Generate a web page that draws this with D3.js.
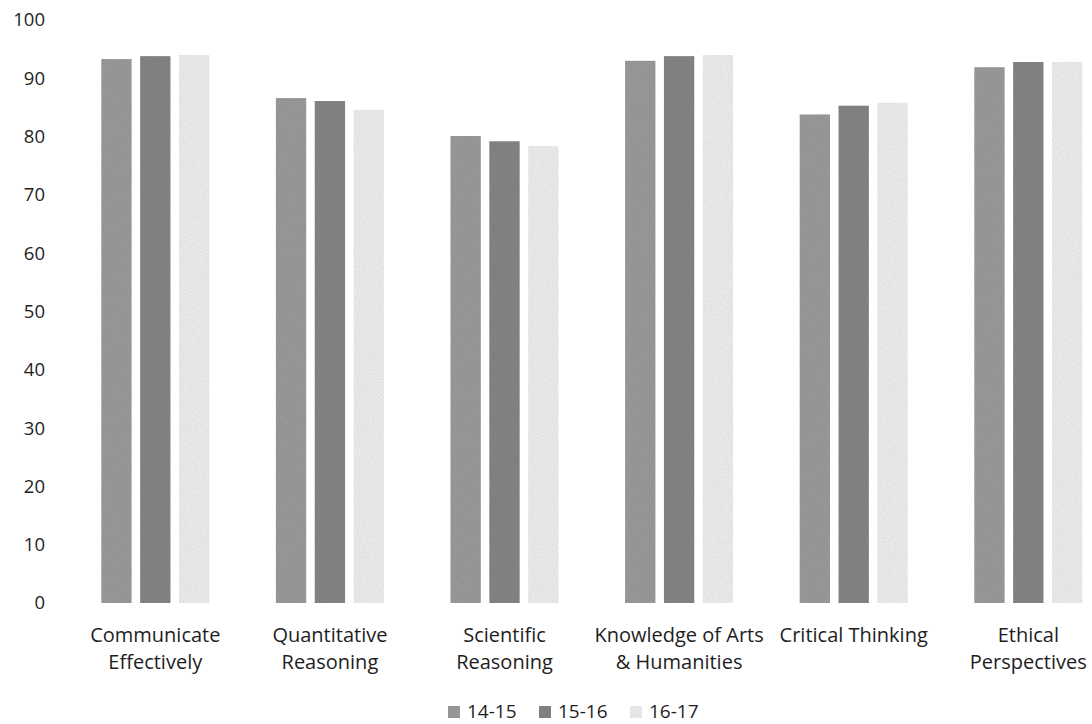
<!DOCTYPE html>
<html>
<head>
<meta charset="utf-8">
<script src="https://cdn.jsdelivr.net/npm/d3@7"></script>
<style>
  html, body { margin: 0; padding: 0; background: #ffffff; }
  svg { display: block; }
  text { font-family: "Open Sans", Lato, sans-serif; fill: #1e1e1e; }
</style>
</head>
<body>
<svg id="chart" width="1092" height="724"></svg>
<script>
// Survey results by learning outcome, three academic years
const categories = [
  "Communicate Effectively",
  "Quantitative Reasoning",
  "Scientific Reasoning",
  "Knowledge of Arts & Humanities",
  "Critical Thinking",
  "Ethical Perspectives"
];
const categoryLines = [
  ["Communicate", "Effectively"],
  ["Quantitative", "Reasoning"],
  ["Scientific", "Reasoning"],
  ["Knowledge of Arts", "& Humanities"],
  ["Critical Thinking"],
  ["Ethical", "Perspectives"]
];
const seriesNames = ["14-15", "15-16", "16-17"];
const values1415 = [93.3, 86.6, 80.1, 93.0, 83.8, 91.9];
const values1516 = [93.8, 86.1, 79.2, 93.8, 85.3, 92.8];
const values1617 = [94.0, 84.6, 78.4, 94.0, 85.8, 92.8];
const yTicks = [0, 10, 20, 30, 40, 50, 60, 70, 80, 90, 100];
const seriesColors = ["#9a9a9a", "#848484", "#ececec"];

const seriesValues = [values1415, values1516, values1617];

const svg = d3.select("#chart");

// grain used on the bars
const defs = svg.append("defs");
const grain = defs.append("filter").attr("id", "grain")
  .attr("x", 0).attr("y", 0).attr("width", 1).attr("height", 1);
grain.append("feTurbulence").attr("type", "fractalNoise")
  .attr("baseFrequency", 0.9).attr("numOctaves", 2).attr("seed", 3).attr("result", "noise");
grain.append("feColorMatrix").attr("in", "noise").attr("type", "matrix")
  .attr("values", "0 0 0 0 0  0 0 0 0 0  0 0 0 0 0  0 0 0 0.26 -0.07").attr("result", "dots");
grain.append("feComposite").attr("in", "dots").attr("in2", "SourceGraphic").attr("operator", "in").attr("result", "dotsIn");
grain.append("feMerge").selectAll("feMergeNode").data(["SourceGraphic", "dotsIn"]).join("feMergeNode").attr("in", d => d);

const y = d3.scaleLinear().domain([0, 100]).range([603, 20]);
const x0 = d3.scaleBand().domain(categories).range([68, 1115.6]).paddingInner(0).paddingOuter(0);
const groupWidth = 108;
const x1 = d3.scaleBand().domain(seriesNames).range([0, groupWidth]).paddingInner(0.22);

// y axis labels
const yAxis = d3.axisLeft(y).tickValues(yTicks).tickSize(0).tickPadding(0);
const yg = svg.append("g").attr("transform", "translate(45,0)").call(yAxis);
yg.select(".domain").remove();
yg.selectAll("text")
  .attr("font-family", "'Open Sans', Lato, sans-serif")
  .attr("font-size", 18.5)
  .attr("fill", "#1e1e1e");

// bars
const groups = svg.append("g").selectAll("g")
  .data(categories)
  .join("g")
  .attr("transform", d => `translate(${x0(d) + (x0.bandwidth() - groupWidth) / 2},0)`);

groups.selectAll("rect")
  .data((d, i) => seriesNames.map((s, j) => ({ series: s, value: seriesValues[j][i], j })))
  .join("rect")
  .attr("x", d => x1(d.series))
  .attr("y", d => y(d.value))
  .attr("width", x1.bandwidth())
  .attr("height", d => y(0) - y(d.value))
  .attr("fill", d => seriesColors[d.j])
  .attr("filter", "url(#grain)");

// category labels
const labels = svg.append("g").selectAll("text")
  .data(categories)
  .join("text")
  .attr("text-anchor", "middle")
  .attr("font-size", 20)
  .attr("x", d => x0(d) + x0.bandwidth() / 2)
  .attr("y", 642);
labels.selectAll("tspan")
  .data((d, i) => categoryLines[i])
  .join("tspan")
  .attr("x", function () { return d3.select(this.parentNode).attr("x"); })
  .attr("dy", (d, i) => i === 0 ? 0 : 27)
  .text(d => d);

// legend
const legendItems = [
  { name: seriesNames[0], x: 448 },
  { name: seriesNames[1], x: 539 },
  { name: seriesNames[2], x: 630 }
];
const legend = svg.append("g").selectAll("g")
  .data(legendItems)
  .join("g")
  .attr("transform", d => `translate(${d.x},711)`);
legend.append("rect")
  .attr("x", 0).attr("y", -5).attr("width", 12).attr("height", 12)
  .attr("fill", (d, i) => seriesColors[i])
  .attr("filter", "url(#grain)");
legend.append("text")
  .attr("x", 19).attr("y", 0)
  .attr("dominant-baseline", "central")
  .attr("font-size", 19)
  .text(d => d.name);
</script>
</body>
</html>
